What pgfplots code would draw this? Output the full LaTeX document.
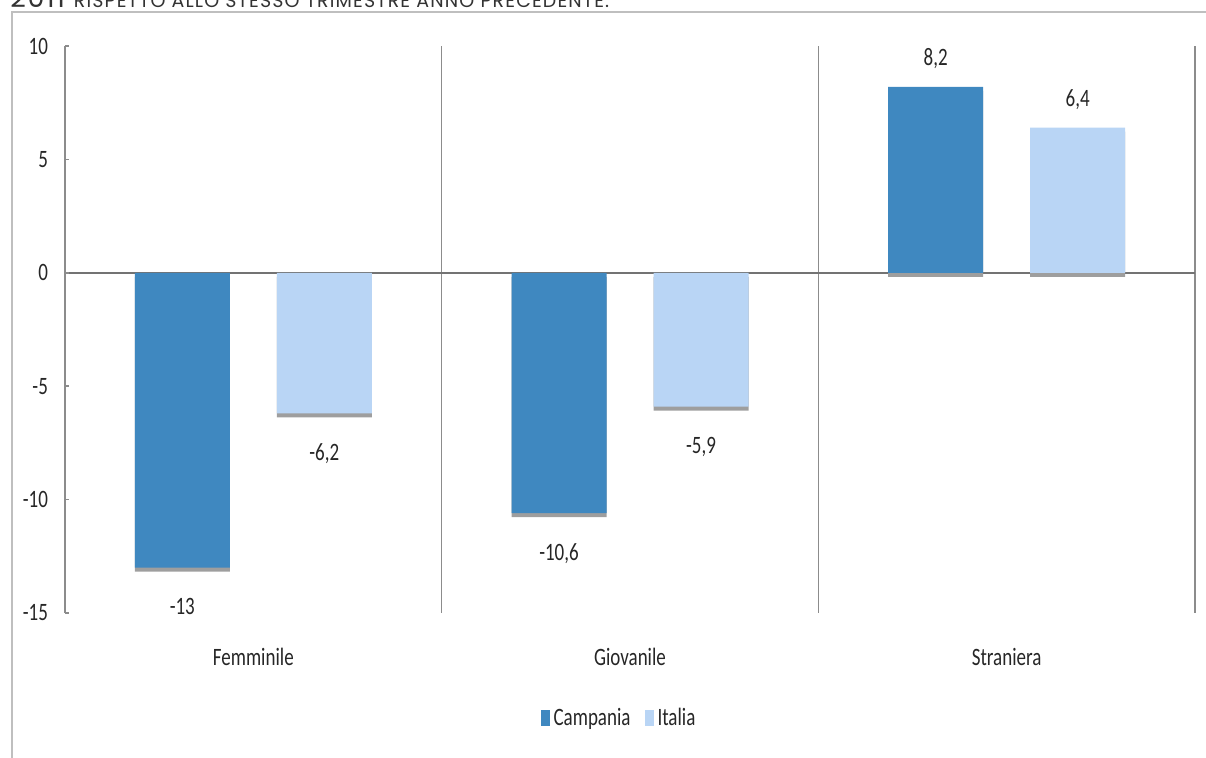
\documentclass[border=0pt]{standalone}
\usepackage{pgfplots}
\pgfplotsset{compat=1.18}
\usepackage{fontspec}
\setmainfont{Carlito}
\newfontfamily\chartfont{Carlito}[FakeStretch=0.76]
\newfontfamily\titlefont{Poppins}[LetterSpace=6]
\definecolor{campania}{HTML}{3F88C0}
\definecolor{italia}{HTML}{B9D5F5}
\definecolor{axisgray}{HTML}{8C8C8C}
\definecolor{txt}{HTML}{262626}
\begin{document}
\begin{tikzpicture}
\useasboundingbox (-32.5pt,-72.5pt) rectangle (570.5pt,306.5pt);
\draw[line width=1.2pt, color=black!25] (-26.5pt,-100pt) -- (-26.5pt,300.5pt) -- (700pt,300.5pt);
\node[anchor=base west, inner sep=0pt, text=black!80] at (-27.5pt,302.5pt) {\titlefont\fontsize{13.5}{13.5}\selectfont 2011 \fontsize{9.5}{9.5}\selectfont RISPETTO ALLO STESSO TRIMESTRE ANNO PRECEDENTE.};
\begin{axis}[
  at={(0pt,0pt)}, anchor=south west,
  scale only axis, width=565pt, height=283.5pt,
  xmin=-0.5, xmax=2.5, ymin=-15, ymax=10,
  axis x line*=bottom, axis y line*=left,
  x axis line style={draw=none},
  y axis line style={draw=axisgray, line width=0.8pt, -},
  xtick={0,1,2}, xticklabels={Femminile,Giovanile,Straniera},
  xtick style={draw=none},
  ytick={-15,-10,...,10},
  ytick style={draw=axisgray, line width=0.8pt},
  tick align=inside, major tick length=2pt,
  extra x ticks={0.5,1.5,2.5}, extra x tick labels={},
  extra x tick style={grid=major, major grid style={axisgray, line width=0.8pt}, tick style={draw=none}},
  extra y ticks={0}, extra y tick labels={},
  extra y tick style={grid=major, major grid style={black!55, line width=1.2pt}},
  ticklabel style={font=\chartfont\fontsize{12.5}{12.5}\selectfont, text=txt},
  yticklabel style={xshift=-5pt},
  xticklabel style={yshift=-12pt},
  /pgf/number format/use comma,
  /pgf/number format/assume math mode=true,
  ybar, bar width=47.5pt,
  nodes near coords, point meta=y,
  every node near coord/.append style={font=\chartfont\fontsize{12.5}{12.5}\selectfont, text=txt, inner sep=12pt, yshift=-3pt},
  legend style={at={(0.5,0)}, anchor=center, xshift=-5pt, yshift=-52.5pt, draw=none, legend columns=2,
    font=\chartfont\fontsize{12.5}{12.5}\selectfont, text=txt,
    /tikz/every even column/.append style={column sep=5pt}},
  legend image code/.code={\fill[#1] (0pt,-3.8pt) rectangle (4.5pt,3.8pt);},
]
\addlegendimage{fill=campania, draw=none}
\addlegendentry{Campania}
\addlegendimage{fill=italia, draw=none}
\addlegendentry{Italia}
\addplot[fill=campania, draw=none, forget plot, bar shift=-35.5pt, preaction={fill=black!38, transform canvas={yshift=-2pt}}] coordinates {(0,-13) (1,-10.6) (2,8.2)};
\addplot[fill=italia, draw=none, forget plot, bar shift=35.5pt, preaction={fill=black!38, transform canvas={yshift=-2pt}}] coordinates {(0,-6.2) (1,-5.9) (2,6.4)};
\end{axis}
\end{tikzpicture}
\end{document}
